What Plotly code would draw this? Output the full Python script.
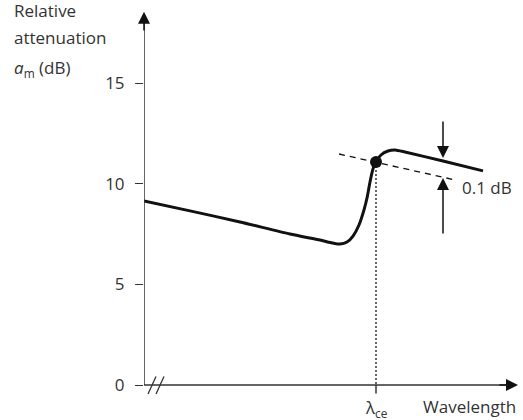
import plotly.graph_objects as go

# ---- data (x in arbitrary wavelength units) ----
curve_x = [0, 46, 96, 146, 176, 189, 196, 203, 209, 215, 220, 223, 226, 229, 232, 237, 244, 251, 261, 299, 339]
curve_y = [9.15, 8.66, 8.11, 7.51, 7.21, 7.06, 7.01, 7.11, 7.41, 7.96, 8.71, 9.30, 10.10, 10.75, 11.09, 11.44, 11.64, 11.69, 11.59, 11.14, 10.65]

cutoff_x = [232]          # lambda_ce
cutoff_y = [11.09]

tangent_x = [195, 311]    # dashed reference line through the cutoff point
tangent_y = [11.49, 10.20]

gap_arrow_x = [299]       # 0.1 dB indication
gap_top = [13.18, 11.29]  # down arrow: from, to
gap_bottom = [7.46, 10.30]  # up arrow: from, to

y_ticks = [0, 5, 10, 15]
y_tick_labels = ["0", "5", "10", "15"]

x_axis_end = 374
y_axis_end = 18.56

FONT = "Open Sans"
TXT = "#333333"
AX = "#333333"
PLOT_W = 379.0

fig = go.Figure()

# curve
fig.add_trace(go.Scatter(x=curve_x, y=curve_y, mode="lines",
                         line=dict(color="#111111", width=3, shape="spline", smoothing=0.6),
                         hoverinfo="skip", showlegend=False))
# dashed tangent
fig.add_trace(go.Scatter(x=tangent_x, y=tangent_y, mode="lines",
                         line=dict(color="#111111", width=1.3, dash="6px,5px"),
                         hoverinfo="skip", showlegend=False))
# dotted vertical from cutoff point
fig.add_trace(go.Scatter(x=[cutoff_x[0], cutoff_x[0]], y=[cutoff_y[0], 0], mode="lines",
                         line=dict(color="#333333", width=1.5, dash="2px,2px"),
                         hoverinfo="skip", showlegend=False))
# cutoff point
fig.add_trace(go.Scatter(x=cutoff_x, y=cutoff_y, mode="markers",
                         marker=dict(color="#111111", size=12),
                         hoverinfo="skip", showlegend=False))

# axes lines
fig.add_shape(type="line", x0=-8, y0=0, x1=x_axis_end - 4, y1=0, line=dict(color=AX, width=1.5))
fig.add_shape(type="line", x0=0, y0=0, x1=0, y1=y_axis_end - 0.3, line=dict(color=AX, width=1.5))
# tick below x axis at lambda_ce
fig.add_shape(type="line", x0=cutoff_x[0], y0=0, x1=cutoff_x[0], y1=-0.42, line=dict(color=AX, width=1.5))
# axis break marks
for x0 in [4, 12]:
    fig.add_shape(type="line", x0=x0, y0=-0.45, x1=x0 + 8, y1=0.42, line=dict(color=AX, width=1.3))

# arrows
def arrow(x, y, ax, ay, w=1.5, size=1.6):
    fig.add_annotation(x=x, y=y, ax=ax, ay=ay, xref="x", yref="y", axref="x", ayref="y",
                       text="", showarrow=True, arrowhead=2, arrowsize=size,
                       arrowwidth=w, arrowcolor="#111111", standoff=0)

arrow(0, y_axis_end, 0, y_axis_end - 1)
arrow(x_axis_end, 0, x_axis_end - 20, 0)
arrow(gap_arrow_x[0], gap_top[1], gap_arrow_x[0], gap_top[0])
arrow(gap_arrow_x[0], gap_bottom[1], gap_arrow_x[0], gap_bottom[0])

# texts
def txt(x, y, s, xanchor="left", size=17, xref="x"):
    fig.add_annotation(x=x, y=y, xref=xref, yref="y", text=s, showarrow=False,
                       xanchor=xanchor, yanchor="middle",
                       font=dict(family=FONT, size=size, color=TXT))

left = -132 / PLOT_W
txt(left, 18.62, "Relative", xref="paper")
txt(left, 17.3, "attenuation", xref="paper")
txt(left, 15.72, "<i>a</i><sub>m</sub> (dB)", xref="paper")
txt(316, 9.82, "0.1 dB")
txt(cutoff_x[0], -1.15, "λ<sub>ce</sub>", xanchor="center")
txt(277, -1.08, "Wavelength")

fig.update_layout(
    width=523, height=420,
    margin=dict(l=144, r=0, t=0, b=0),
    paper_bgcolor="white", plot_bgcolor="white",
    xaxis=dict(range=[0, 379], visible=False, fixedrange=True),
    yaxis=dict(range=[-1.741, 19.15], showgrid=False, zeroline=False, showline=False,
               tickmode="array", tickvals=y_ticks, ticktext=y_tick_labels,
               ticks="outside", ticklen=8, tickwidth=1.3, tickcolor=AX,
               ticklabelstandoff=7,
               tickfont=dict(family=FONT, size=17, color=TXT), fixedrange=True),
    showlegend=False,
)

fig.write_html("out.html", config=dict(displayModeBar=False),
               post_script="document.body.style.margin='0';document.body.style.overflow='hidden';")
